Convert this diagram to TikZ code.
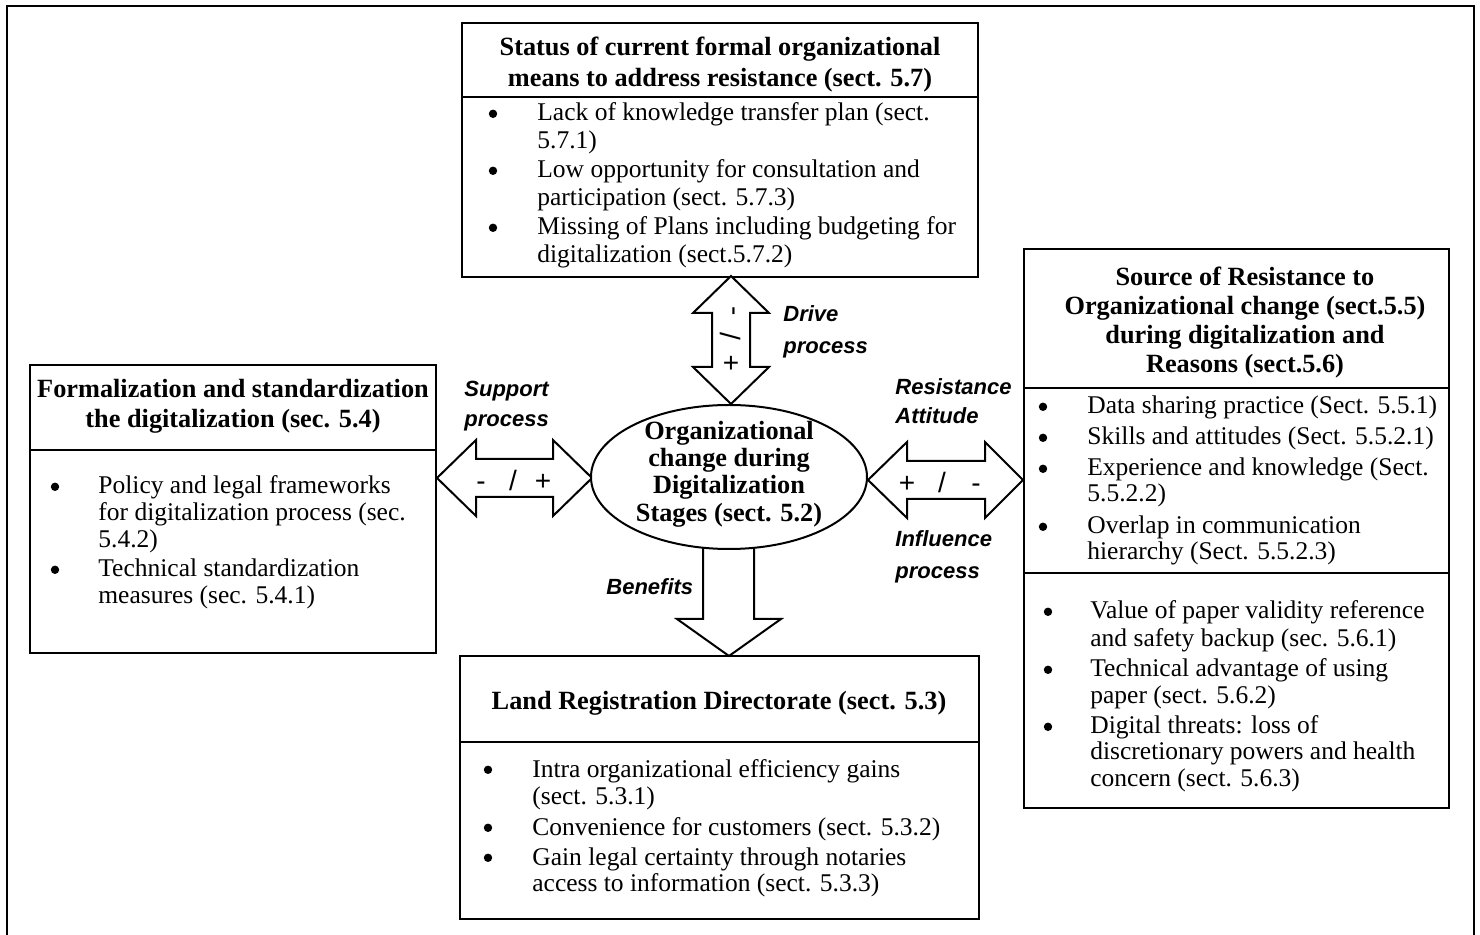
\documentclass[tikz,border=0pt]{standalone}
\usepackage{fontspec}
\setmainfont{Liberation Serif}
\newfontfamily\labfont{Liberation Sans}
\usetikzlibrary{shapes.geometric}
\begin{document}
\begin{tikzpicture}[x=0.5pt,y=-0.5pt,
  box/.style={draw, line width=1pt, rectangle, inner sep=0, outer sep=0, anchor=north west},
  ln/.style={line width=1pt},
  blk/.style={draw, line width=1pt, fill=white, line join=miter},
  body/.style={font=\fontsize{12.75}{14}\selectfont, anchor=base west, inner sep=0},
  bul/.style={circle, fill=black, inner sep=0, minimum size=4.2pt, yshift=3.6pt},
  head/.style={font=\bfseries\fontsize{13.15}{14}\selectfont, anchor=base, inner sep=0},
  lab/.style={font=\labfont\bfseries\itshape\fontsize{11}{13}\selectfont, anchor=base west, inner sep=0},
  sign/.style={font=\labfont\fontsize{14}{16}\selectfont, inner sep=0, anchor=base},
  rsign/.style={font=\labfont\fontsize{14}{16}\selectfont, inner sep=0, rotate=-90}]
\useasboundingbox (0,0) rectangle (1480,935);
\clip (0,0) rectangle (1480,935);
% outer frame
\draw[line width=1.3pt] (7,950) -- (7,6) -- (1474,6) -- (1474,950);

% boxes
\node[box, minimum width=258pt, minimum height=127pt] (status) at (462,23) {};
\draw[ln] (462,97) -- (978,97);
\node[box, minimum width=203pt, minimum height=144pt] (formal) at (30,365) {};
\draw[ln] (30,450) -- (436,450);
\node[box, minimum width=212.5pt, minimum height=279.5pt] (source) at (1024,249) {};
\draw[ln] (1024,388) -- (1449,388);
\draw[ln] (1024,573) -- (1449,573);
\node[box, minimum width=259.5pt, minimum height=131.5pt] (land) at (460,656) {};
\draw[ln] (460,742) -- (979,742);

% block arrows
\draw[blk] (437,478) -- (476,440) -- (476,459) -- (553,459) -- (553,440) -- (592,478)
  -- (553,516) -- (553,497) -- (476,497) -- (476,516) -- cycle;
\draw[blk] (868,480) -- (907,442) -- (907,461) -- (985,461) -- (985,442) -- (1023,480)
  -- (985,518) -- (985,499) -- (907,499) -- (907,518) -- cycle;
\draw[blk] (731,276) -- (769,313) -- (750,313) -- (750,367) -- (769,367) -- (731,404)
  -- (693,367) -- (712,367) -- (712,313) -- (693,313) -- cycle;
\draw[blk] (703,510) -- (703,619) -- (677,619) -- (729,656) -- (781,619) -- (754,619) -- (754,510);

% central ellipse
\node[draw, ellipse, line width=1pt, fill=white, inner sep=0, minimum width=138pt, minimum height=72pt] (core) at (729,477) {};
\node[head] (c1) at (729,440) {Organizational};
\node[head] (c2) at (729,467) {change during};
\node[head] (c3) at (729,494) {Digitalization};
\node[head] (c4) at (729,522) {Stages (sect. 5.2)};

% signs in arrows
\node[sign] (s1) at (481,491) {-};
\node[sign] (s2) at (513,491) {/};
\node[sign] (s3) at (543,491) {+};
\node[sign] (s4) at (907,493) {+};
\node[sign] (s5) at (942,493) {/};
\node[sign] (s6) at (976,493) {-};
\node[rsign] (s7) at (731,311) {-};
\node[rsign] (s8) at (731,336) {/};
\node[sign] (s9) at (731,373) {+};

% arrow labels
\node[lab] (l1) at (783,322) {Drive};
\node[lab] (l2) at (783,354) {process};
\node[lab] (l3) at (464,397) {Support};
\node[lab] (l4) at (464,427) {process};
\node[lab] (l5) at (895,395) {Resistance};
\node[lab] (l6) at (895,424) {Attitude};
\node[lab] (l7) at (895,547) {Influence};
\node[lab] (l8) at (895,579) {process};
\node[lab] (l9) at (606,595) {Benefits};

% status box text
\node[head] (h1) at (720,56) {Status of current formal organizational};
\node[head] (h2) at (720,87) {means to address resistance (sect. 5.7)};
\node[bul] (b1) at (493,121) {};
\node[body] (t1) at (537,121) {Lack of knowledge transfer plan (sect.};
\node[body] (t2) at (537,149) {5.7.1)};
\node[bul] (b2) at (493,178) {};
\node[body] (t3) at (537,178) {Low opportunity for consultation and};
\node[body] (t4) at (537,206) {participation (sect. 5.7.3)};
\node[bul] (b3) at (493,235) {};
\node[body] (t5) at (537,235) {Missing of Plans including budgeting for};
\node[body] (t6) at (537,263) {digitalization (sect.5.7.2)};

% formalization box text
\node[head] (h3) at (233,398) {Formalization and standardization};
\node[head] (h4) at (233,428) {the digitalization (sec. 5.4)};
\node[bul] (b4) at (55,494) {};
\node[body] (t7) at (98,494) {Policy and legal frameworks};
\node[body] (t8) at (98,521) {for digitalization process (sec.};
\node[body] (t9) at (98,548) {5.4.2)};
\node[bul] (b5) at (55,577) {};
\node[body] (t10) at (98,577) {Technical standardization};
\node[body] (t11) at (98,604) {measures (sec. 5.4.1)};

% source box text
\node[head] (h5) at (1245,286) {Source of Resistance to};
\node[head] (h6) at (1245,315) {Organizational change (sect.5.5)};
\node[head] (h7) at (1245,344) {during digitalization and};
\node[head] (h8) at (1245,373) {Reasons (sect.5.6)};
\node[bul] (b6) at (1043,414) {};
\node[body] (t12) at (1087,414) {Data sharing practice (Sect. 5.5.1)};
\node[bul] (b7) at (1043,445) {};
\node[body] (t13) at (1087,445) {Skills and attitudes (Sect. 5.5.2.1)};
\node[bul] (b8) at (1043,476) {};
\node[body] (t14) at (1087,476) {Experience and knowledge (Sect.};
\node[body] (t15) at (1087,502) {5.5.2.2)};
\node[bul] (b9) at (1043,534) {};
\node[body] (t16) at (1087,534) {Overlap in communication};
\node[body] (t17) at (1087,560) {hierarchy (Sect. 5.5.2.3)};
\node[bul] (b10) at (1048,619) {};
\node[body] (t18) at (1090,619) {Value of paper validity reference};
\node[body] (t19) at (1090,647) {and safety backup (sec. 5.6.1)};
\node[bul] (b11) at (1048,677) {};
\node[body] (t20) at (1090,677) {Technical advantage of using};
\node[body] (t21) at (1090,704) {paper (sect. 5.6.2)};
\node[bul] (b12) at (1048,734) {};
\node[body] (t22) at (1090,734) {Digital threats: loss of};
\node[body] (t23) at (1090,760) {discretionary powers and health};
\node[body] (t24) at (1090,787) {concern (sect. 5.6.3)};

% land box text
\node[head] (h9) at (719,710) {Land Registration Directorate (sect. 5.3)};
\node[bul] (b13) at (488,777) {};
\node[body] (t25) at (532,777) {Intra organizational efficiency gains};
\node[body] (t26) at (532,805) {(sect. 5.3.1)};
\node[bul] (b14) at (488,835) {};
\node[body] (t27) at (532,835) {Convenience for customers (sect. 5.3.2)};
\node[bul] (b15) at (488,865) {};
\node[body] (t28) at (532,865) {Gain legal certainty through notaries};
\node[body] (t29) at (532,892) {access to information (sect. 5.3.3)};
\end{tikzpicture}
\end{document}
